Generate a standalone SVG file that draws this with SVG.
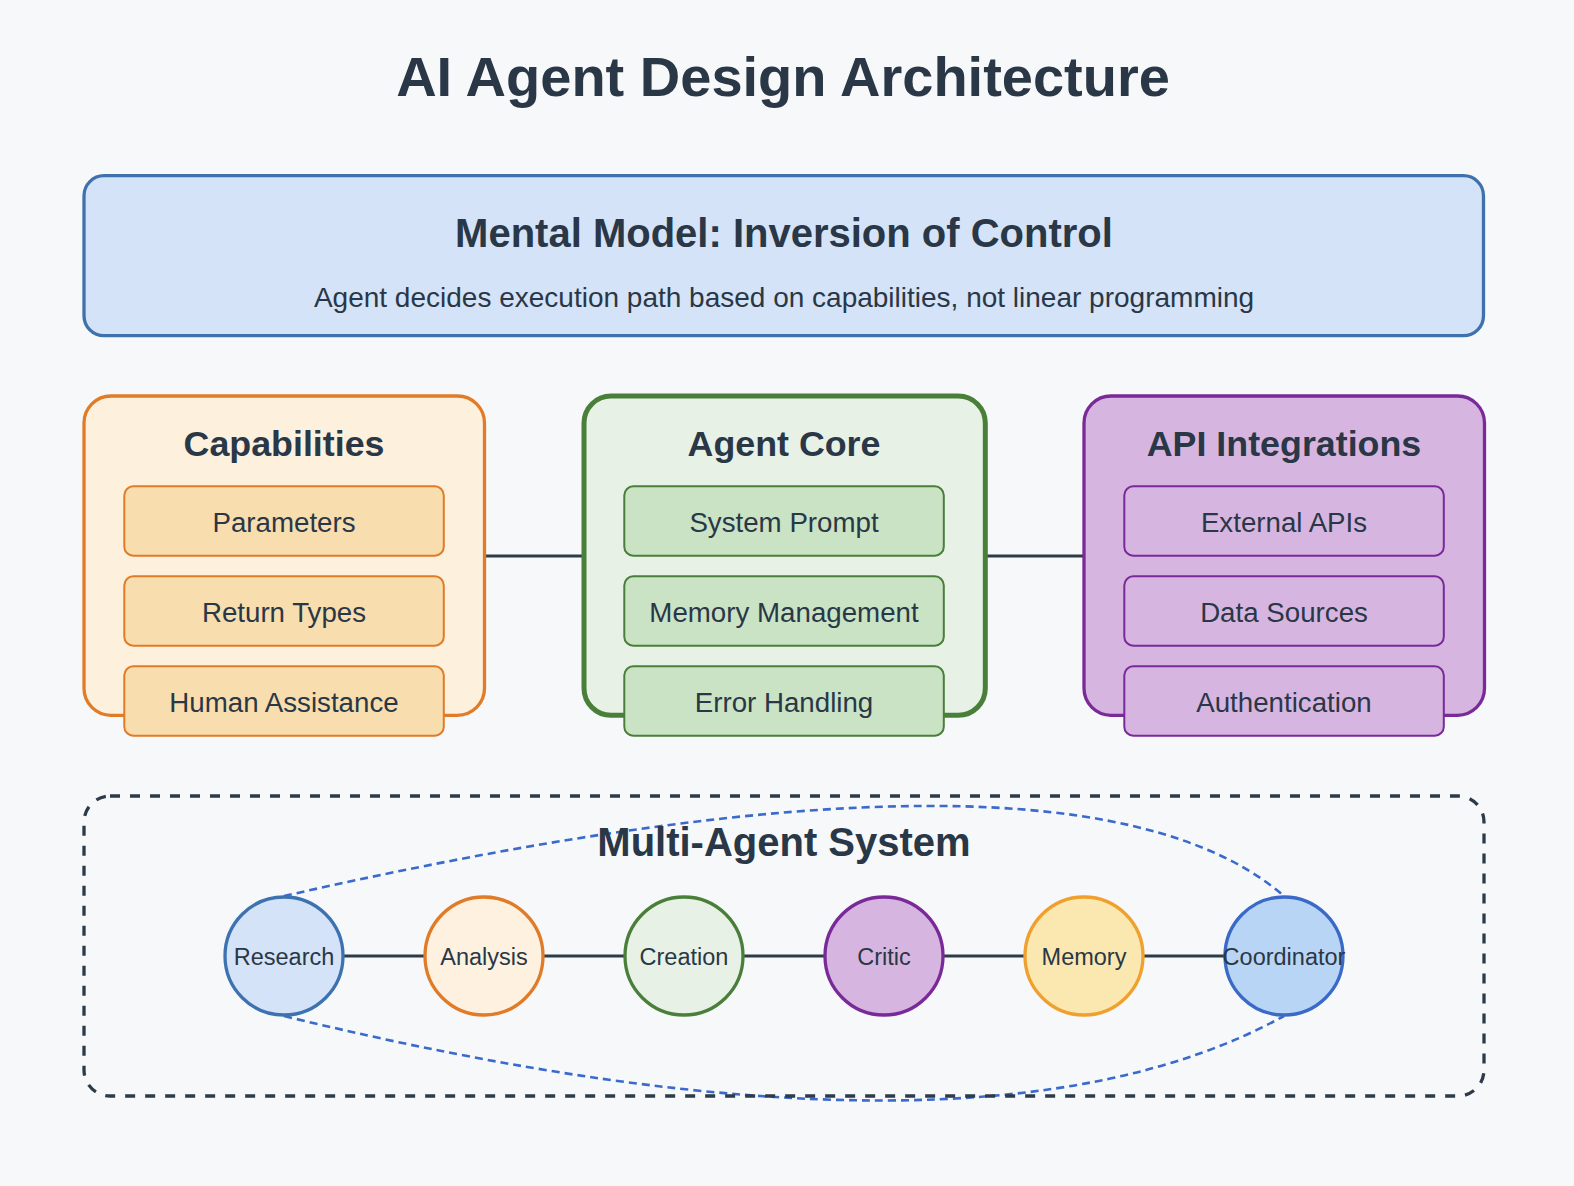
<svg xmlns="http://www.w3.org/2000/svg" width="1574" height="1186" viewBox="0 0 1574 1186">
  <style>
    text { font-family: "Liberation Sans", Arial, Helvetica, sans-serif; fill: #2a3746; text-anchor: middle; }
    .title { font-size: 56px; font-weight: bold; }
    .h1 { font-size: 40px; font-weight: bold; }
    .h2 { font-size: 35.8px; font-weight: bold; }
    .sub { font-size: 28px; }
    .item { font-size: 27.7px; }
    .node { font-size: 23.5px; }
    .conn { stroke: #2c3a49; stroke-width: 3; fill: none; }
    .link { stroke: #3a6acc; stroke-width: 2.6; fill: none; stroke-dasharray: 8 5; }
    .cap-o { fill: #fdf0dc; stroke: #e07b28; stroke-width: 3.3; }
    .cap-i { fill: #f8ddae; stroke: #e07b28; stroke-width: 2; }
    .core-o { fill: #e7f1e5; stroke: #4a7f3a; stroke-width: 5; }
    .core-i { fill: #c9e3c4; stroke: #4a7f3a; stroke-width: 2; }
    .api-o { fill: #d6b6e0; stroke: #7a2a98; stroke-width: 3.3; }
    .api-i { fill: #d6b6e0; stroke: #7a2a98; stroke-width: 2; }
  </style>
  <rect x="0" y="0" width="1574" height="1186" fill="#f7f8fa"/>

  <text class="title" x="783" y="96">AI Agent Design Architecture</text>

  <g id="mental-model">
    <rect x="84" y="175.7" width="1399.5" height="160" rx="20" fill="#d4e3f7" stroke="#3f72ad" stroke-width="3.3"/>
    <text class="h1" x="784" y="246.7">Mental Model: Inversion of Control</text>
    <text class="sub" x="784" y="306.5">Agent decides execution path based on capabilities, not linear programming</text>
  </g>

  <g id="connectors">
    <line class="conn" x1="484" y1="556" x2="584" y2="556"/>
    <line class="conn" x1="984" y1="556" x2="1084" y2="556"/>
    <path class="link" d="M 284 896 C 664 810, 1110 746, 1284 896"/>
    <path class="link" d="M 284 1016 Q 977 1185 1284 1016"/>
    <line class="conn" x1="343" y1="956" x2="425" y2="956"/>
    <line class="conn" x1="543" y1="956" x2="625" y2="956"/>
    <line class="conn" x1="743" y1="956" x2="825" y2="956"/>
    <line class="conn" x1="943" y1="956" x2="1025" y2="956"/>
    <line class="conn" x1="1143" y1="956" x2="1225" y2="956"/>
  </g>

  <g id="capabilities">
    <rect class="cap-o" x="84" y="396" width="400.5" height="319.3" rx="27"/>
    <text class="h2" x="284" y="456">Capabilities</text>
    <rect class="cap-i" x="124.3" y="486.3" width="319.5" height="69.4" rx="9"/>
    <text class="item" x="284" y="531.5">Parameters</text>
    <rect class="cap-i" x="124.3" y="576.3" width="319.5" height="69.4" rx="9"/>
    <text class="item" x="284" y="621.5">Return Types</text>
    <rect class="cap-i" x="124.3" y="666.3" width="319.5" height="69.4" rx="9"/>
    <text class="item" x="284" y="711.5">Human Assistance</text>
  </g>

  <g id="agent-core">
    <rect class="core-o" x="584" y="396" width="401.3" height="319.3" rx="27"/>
    <text class="h2" x="784" y="456">Agent Core</text>
    <rect class="core-i" x="624.3" y="486.3" width="319.5" height="69.4" rx="9"/>
    <text class="item" x="784" y="531.5">System Prompt</text>
    <rect class="core-i" x="624.3" y="576.3" width="319.5" height="69.4" rx="9"/>
    <text class="item" x="784" y="621.5">Memory Management</text>
    <rect class="core-i" x="624.3" y="666.3" width="319.5" height="69.4" rx="9"/>
    <text class="item" x="784" y="711.5">Error Handling</text>
  </g>

  <g id="api-integrations">
    <rect class="api-o" x="1084" y="396" width="400.5" height="319.3" rx="27"/>
    <text class="h2" x="1284" y="456">API Integrations</text>
    <rect class="api-i" x="1124.3" y="486.3" width="319.5" height="69.4" rx="9"/>
    <text class="item" x="1284" y="531.5">External APIs</text>
    <rect class="api-i" x="1124.3" y="576.3" width="319.5" height="69.4" rx="9"/>
    <text class="item" x="1284" y="621.5">Data Sources</text>
    <rect class="api-i" x="1124.3" y="666.3" width="319.5" height="69.4" rx="9"/>
    <text class="item" x="1284" y="711.5">Authentication</text>
  </g>

  <g id="multi-agent-system">
    <rect x="84" y="796" width="1400" height="300" rx="26" fill="none" stroke="#2c3a49" stroke-width="3.3" stroke-dasharray="10 10"/>
    <text class="h1" x="784" y="855.7">Multi-Agent System</text>
  </g>

  <g id="agent-research">
    <circle cx="284" cy="956" r="59" fill="#d4e3f7" stroke="#3d72b0" stroke-width="3.3"/>
    <text class="node" x="284" y="964.5">Research</text>
  </g>
  <g id="agent-analysis">
    <circle cx="484" cy="956" r="59" fill="#fef1df" stroke="#e07b28" stroke-width="3.3"/>
    <text class="node" x="484" y="964.5">Analysis</text>
  </g>
  <g id="agent-creation">
    <circle cx="684" cy="956" r="59" fill="#e7f1e5" stroke="#4a7f3a" stroke-width="3.3"/>
    <text class="node" x="684" y="964.5">Creation</text>
  </g>
  <g id="agent-critic">
    <circle cx="884" cy="956" r="59" fill="#d6b6e0" stroke="#7a2a98" stroke-width="3.3"/>
    <text class="node" x="884" y="964.5">Critic</text>
  </g>
  <g id="agent-memory">
    <circle cx="1084" cy="956" r="59" fill="#fbe8b0" stroke="#efa02e" stroke-width="3.3"/>
    <text class="node" x="1084" y="964.5">Memory</text>
  </g>
  <g id="agent-coordinator">
    <circle cx="1284" cy="956" r="59" fill="#b9d5f5" stroke="#3a6ac8" stroke-width="3.3"/>
    <text class="node" x="1284" y="964.5">Coordinator</text>
  </g>
</svg>
